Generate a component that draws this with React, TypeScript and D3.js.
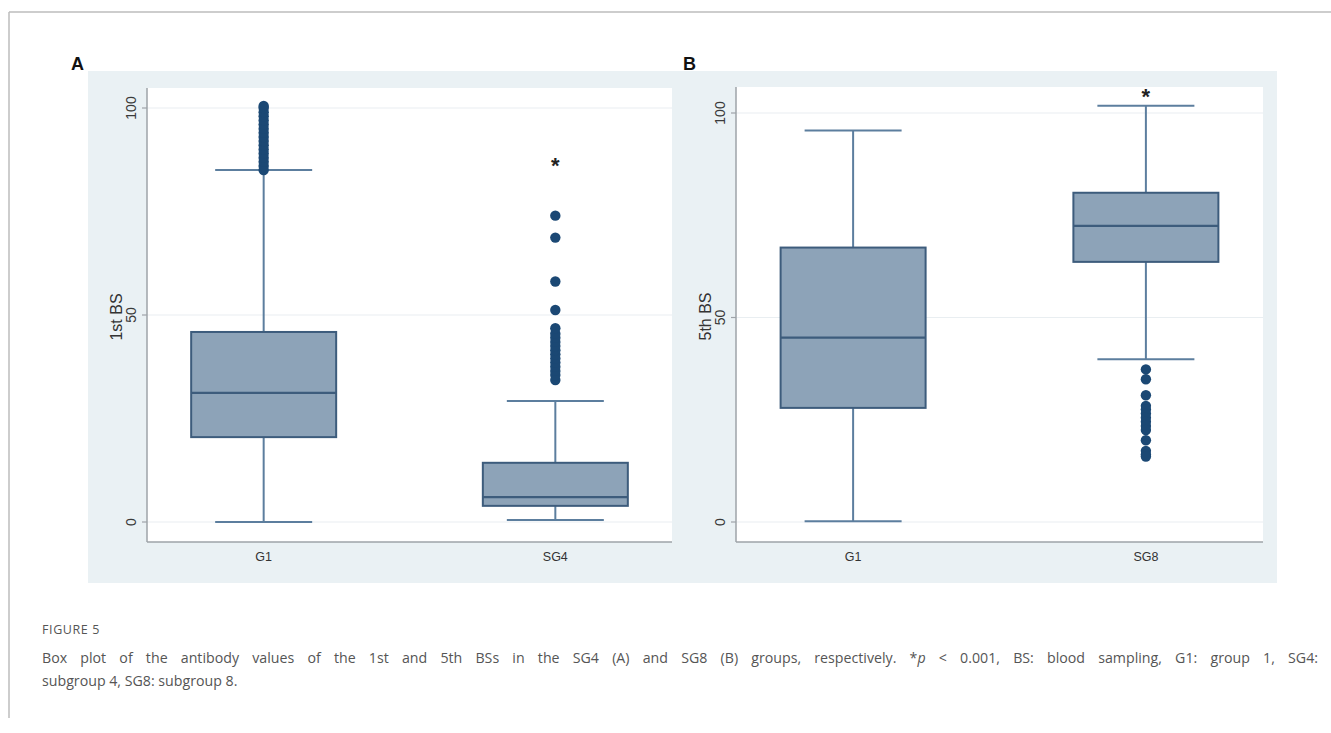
import React, { useEffect, useRef, useState } from "react";
import { scaleLinear, scalePoint } from "d3";

// panel A: 1st blood sampling
const categoriesA = ["G1", "SG4"];
const whiskerLowA = [0, 0.5];
const q1A = [20.5, 3.9];
const medianA = [31.2, 6.0];
const q3A = [45.9, 14.3];
const whiskerHighA = [85, 29.2];
const outliersA = [
  [85, 86, 87, 88, 89, 90, 91, 92, 93, 94, 95, 96, 97, 98, 99, 100, 100.5],
  [34.3, 35.5, 36.5, 37.5, 38.5, 39.5, 40.5, 41.5, 42.5, 43.5, 44.5, 45.5, 46.8, 51.2, 58.1, 68.7, 74.0],
];
const starA = [null, 86.6];

// panel B: 5th blood sampling
const categoriesB = ["G1", "SG8"];
const whiskerLowB = [0.2, 39.8];
const q1B = [27.9, 63.6];
const medianB = [45.1, 72.4];
const q3B = [67.1, 80.5];
const whiskerHighB = [95.7, 101.8];
const outliersB = [
  [],
  [37.3, 34.9, 31.0, 28.4, 27.5, 26.5, 25.5, 24.5, 23.5, 22.5, 20.0, 17.4, 16.5, 16.0],
];
const starB = [null, 104.6];

const yTicks = [0, 50, 100];

const BOX_FILL = "#8da3b8";
const BOX_STROKE = "#3d5c7c";
const WHISKER = "#5c7e9e";
const DOT = "#1b4874";
const PANEL_BG = "#eaf1f4";
const FONT = "'Liberation Sans', Arial, sans-serif";
const CAPTION_FONT = "'Open Sans', sans-serif";

function BoxPanel({ letter, letterX, title, bgX, bgW, left, right, plotTop, zeroY, hundredY, cats, lo, q1, med, q3, hi, outliers, stars }) {
  const bottom = 542;
  const bgY = 71;
  const bgH = 512;

  const x = scalePoint().domain(cats).range([left, right]).padding(0.4);
  const y = scaleLinear().domain([0, 100]).range([zeroY, hundredY]);
  const boxW = 145;
  const capW = 97;

  return (
    <g>
      <text x={letterX} y={70} fontFamily={FONT} fontWeight="bold" fontSize={18} fill="#111">
        {letter}
      </text>
      <rect x={bgX} y={bgY} width={bgW} height={bgH} fill={PANEL_BG} />
      <rect x={left} y={plotTop} width={right - left} height={bottom - plotTop} fill="#ffffff" />
      {/* grid */}
      {yTicks.map((t) => (
        <line key={t} x1={left} x2={right} y1={y(t)} y2={y(t)} stroke="#e9eef1" strokeWidth={1.2} />
      ))}
      {/* axes */}
      <line x1={left} x2={left} y1={plotTop} y2={bottom} stroke="#9ea3a8" strokeWidth={1.5} />
      <line x1={left} x2={right} y1={bottom} y2={bottom} stroke="#9ea3a8" strokeWidth={1.5} />
      {yTicks.map((t) => (
        <g key={t}>
          <line x1={left - 5} x2={left} y1={y(t)} y2={y(t)} stroke="#9ea3a8" strokeWidth={1.2} />
          <text
            transform={`translate(${left - 11}, ${y(t)}) rotate(-90)`}
            textAnchor="middle"
            fontFamily={FONT}
            fontSize={14}
            fill="#3a3a3a"
          >
            {t}
          </text>
        </g>
      ))}
      <text
        transform={`translate(${left - 25}, ${(plotTop + bottom) / 2 + 2}) rotate(-90)`}
        textAnchor="middle"
        fontFamily={FONT}
        fontSize={16}
        fill="#333"
      >
        {title}
      </text>
      {cats.map((c, i) => {
        const cx = x(c);
        return (
          <g key={c}>
            <line x1={cx} x2={cx} y1={y(hi[i])} y2={y(q3[i])} stroke={WHISKER} strokeWidth={2} />
            <line x1={cx} x2={cx} y1={y(q1[i])} y2={y(lo[i])} stroke={WHISKER} strokeWidth={2} />
            <line x1={cx - capW / 2} x2={cx + capW / 2} y1={y(hi[i])} y2={y(hi[i])} stroke={WHISKER} strokeWidth={2} />
            <line x1={cx - capW / 2} x2={cx + capW / 2} y1={y(lo[i])} y2={y(lo[i])} stroke={WHISKER} strokeWidth={2} />
            <rect
              x={cx - boxW / 2}
              y={y(q3[i])}
              width={boxW}
              height={y(q1[i]) - y(q3[i])}
              fill={BOX_FILL}
              stroke={BOX_STROKE}
              strokeWidth={2}
            />
            <line x1={cx - boxW / 2} x2={cx + boxW / 2} y1={y(med[i])} y2={y(med[i])} stroke={BOX_STROKE} strokeWidth={2.2} />
            {outliers[i].map((v, j) => (
              <circle key={j} cx={cx} cy={y(v)} r={5.2} fill={DOT} />
            ))}
            {stars[i] != null && (
              <text x={cx} y={y(stars[i]) + 10} textAnchor="middle" fontFamily={FONT} fontWeight="bold" fontSize={22} fill="#222">
                *
              </text>
            )}
            <text x={cx} y={bottom + 19} textAnchor="middle" fontFamily={FONT} fontSize={12.5} fill="#333">
              {c}
            </text>
          </g>
        );
      })}
    </g>
  );
}

export default function App() {
  const width = 1331;
  const height = 733;
  const line1Ref = useRef(null);
  const [wordGap, setWordGap] = useState(0);

  // justify first caption line to the column width, like the source page
  useEffect(() => {
    const el = line1Ref.current;
    if (!el) return;
    const natural = el.getComputedTextLength();
    const spaces = 30;
    setWordGap(Math.max(0, (1276 - natural) / spaces));
  }, []);

  return (
    <svg
      width={width}
      height={height}
      style={{ position: "absolute", left: 0, top: 0, background: "#fff" }}
    >
      <line x1={9} x2={width} y1={12} y2={12} stroke="#bdbdbd" strokeWidth={1.5} />
      <line x1={9} x2={9} y1={12} y2={718} stroke="#bdbdbd" strokeWidth={1.5} />

      <BoxPanel
        letter="A"
        letterX={71}
        title="1st BS"
        bgX={88}
        bgW={595}
        left={147}
        right={672}
        plotTop={88}
        zeroY={522}
        hundredY={108}
        cats={categoriesA}
        lo={whiskerLowA}
        q1={q1A}
        med={medianA}
        q3={q3A}
        hi={whiskerHighA}
        outliers={outliersA}
        stars={starA}
      />
      <BoxPanel
        letter="B"
        letterX={683}
        title="5th BS"
        bgX={681}
        bgW={596}
        left={736}
        right={1263}
        plotTop={87}
        zeroY={522}
        hundredY={113}
        cats={categoriesB}
        lo={whiskerLowB}
        q1={q1B}
        med={medianB}
        q3={q3B}
        hi={whiskerHighB}
        outliers={outliersB}
        stars={starB}
      />

      <text x={42} y={634} fontFamily={CAPTION_FONT} fontSize={12.5} letterSpacing={0.6} fill="#555">
        FIGURE 5
      </text>
      <text
        ref={line1Ref}
        x={42}
        y={663}
        fontFamily={CAPTION_FONT}
        fontSize={14.2}
        fill="#555"
        style={{ wordSpacing: `${wordGap}px` }}
      >
        Box plot of the antibody values of the 1st and 5th BSs in the SG4 (A) and SG8 (B) groups, respectively. *
        <tspan fontStyle="italic">p</tspan> &lt; 0.001, BS: blood sampling, G1: group 1, SG4:
      </text>
      <text x={42} y={686} fontFamily={CAPTION_FONT} fontSize={14.2} fill="#555">
        subgroup 4, SG8: subgroup 8.
      </text>
    </svg>
  );
}
